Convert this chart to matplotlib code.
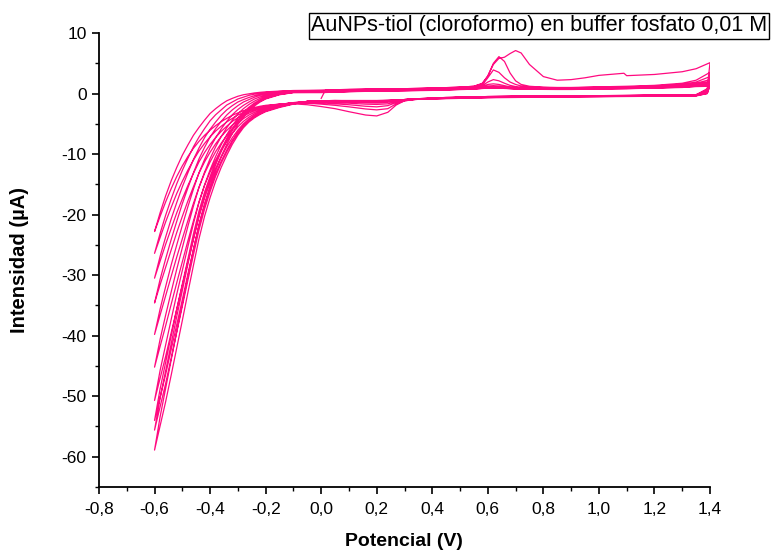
import matplotlib
matplotlib.use("Agg")
import matplotlib.pyplot as plt
from matplotlib.ticker import MultipleLocator, FuncFormatter

# ---- potentials (V) ----
# first anodic half-sweep, starting at 0 V
E_first = [0.0, 0.015, 0.1, 0.2, 0.3, 0.4, 0.5, 0.55, 0.58, 0.60, 0.62, 0.64, 0.66, 0.68,
           0.70, 0.72, 0.75, 0.80, 0.85, 0.90, 0.95, 1.0, 1.09, 1.10, 1.2, 1.3, 1.35, 1.4]
I_first = [-0.8, 0.55, 0.7, 0.75, 0.8, 0.9, 1.05, 1.2, 1.7, 2.9, 4.8, 5.8, 6.0, 6.6,
           7.1, 6.7, 4.8, 2.8, 2.2, 2.3, 2.6, 3.0, 3.35, 2.95, 3.15, 3.6, 4.1, 5.1]

# negative-potential region (ascending order)
E_tail = [-0.60, -0.58, -0.56, -0.54, -0.52, -0.50, -0.48, -0.46, -0.44, -0.42, -0.40, -0.38,
          -0.36, -0.34, -0.32, -0.30, -0.28, -0.26, -0.24, -0.22, -0.20, -0.15, -0.10]
# anodic region above -0.1 V
E_up = [0.0, 0.1, 0.2, 0.3, 0.4, 0.5, 0.55, 0.58, 0.60, 0.62, 0.64, 0.66, 0.68, 0.70,
        0.72, 0.75, 0.80, 0.85, 0.90, 0.95, 1.0, 1.09, 1.10, 1.2, 1.3, 1.35, 1.4]
# cathodic region from the upper vertex down to -0.05 V
E_down = [1.4, 1.39, 1.35, 1.2, 1.0, 0.8, 0.6, 0.45, 0.35, 0.30, 0.27, 0.24, 0.20, 0.16,
          0.10, 0.05, 0.0, -0.05]

# ---- currents (uA), one row per cycle ----
cathodic_down = [
    [5.1, 0.8, -0.2, -0.3, -0.35, -0.4, -0.5, -0.7, -0.95, -1.2, -1.9, -3.1, -3.7, -3.55, -3.0, -2.5, -2.15, -1.85],
    [3.5, 0.6, -0.2, -0.3, -0.35, -0.4, -0.5, -0.65, -0.9, -1.2, -1.7, -2.5, -2.7, -2.55, -2.2, -1.95, -1.75, -1.6],
    [2.8, 0.5, -0.2, -0.3, -0.35, -0.4, -0.5, -0.65, -0.85, -1.1, -1.5, -2.0, -2.2, -2.1, -1.85, -1.7, -1.55, -1.5],
    [2.3, 0.4, -0.25, -0.3, -0.35, -0.45, -0.55, -0.7, -0.85, -1.05, -1.35, -1.7, -1.8, -1.75, -1.6, -1.5, -1.4, -1.4],
    [2.0, 0.3, -0.25, -0.3, -0.4, -0.45, -0.55, -0.7, -0.85, -1.0, -1.2, -1.45, -1.55, -1.5, -1.4, -1.35, -1.3, -1.35],
    [1.8, 0.2, -0.3, -0.35, -0.4, -0.5, -0.6, -0.75, -0.9, -1.0, -1.15, -1.3, -1.4, -1.35, -1.3, -1.25, -1.25, -1.3],
    [1.6, 0.1, -0.3, -0.35, -0.45, -0.5, -0.6, -0.75, -0.9, -1.0, -1.1, -1.25, -1.3, -1.3, -1.25, -1.2, -1.2, -1.3],
    [1.5, 0.1, -0.35, -0.4, -0.45, -0.55, -0.65, -0.8, -0.9, -1.0, -1.1, -1.2, -1.25, -1.25, -1.2, -1.2, -1.2, -1.3],
    [1.4, 0.0, -0.35, -0.4, -0.5, -0.55, -0.65, -0.8, -0.95, -1.0, -1.05, -1.15, -1.2, -1.2, -1.2, -1.15, -1.2, -1.3],
    [1.3, 0.0, -0.4, -0.45, -0.5, -0.6, -0.7, -0.85, -0.95, -1.0, -1.05, -1.1, -1.15, -1.15, -1.15, -1.15, -1.2, -1.3],
]

# cathodic branch in the negative region (listed in E_tail order)
cathodic_tail = [
    [-22.8, -20.3, -17.9, -15.7, -13.7, -11.95, -10.4, -9.05, -7.9, -6.9, -6.05, -5.3, -4.65, -4.1, -3.6, -3.2, -2.85, -2.55, -2.3, -2.1, -1.95, -1.75, -1.7],
    [-26.4, -23.8, -21.2, -18.8, -16.5, -14.5, -12.65, -11.0, -9.5, -8.25, -7.15, -6.2, -5.4, -4.7, -4.1, -3.55, -3.15, -2.75, -2.45, -2.25, -2.05, -1.75, -1.55],
    [-30.5, -27.7, -24.9, -22.3, -19.7, -17.4, -15.2, -13.2, -11.3, -9.75, -8.4, -7.25, -6.25, -5.4, -4.6, -4.0, -3.45, -3.0, -2.65, -2.4, -2.15, -1.8, -1.5],
    [-34.6, -31.6, -28.7, -25.8, -22.95, -20.3, -17.75, -15.4, -13.15, -11.3, -9.7, -8.3, -7.1, -6.1, -5.2, -4.4, -3.75, -3.25, -2.85, -2.55, -2.3, -1.85, -1.5],
    [-39.8, -36.6, -33.45, -30.2, -27.0, -24.0, -21.0, -18.15, -15.5, -13.2, -11.3, -9.6, -8.2, -6.95, -5.85, -4.95, -4.15, -3.55, -3.1, -2.75, -2.45, -1.9, -1.5],
    [-45.2, -41.75, -38.35, -34.8, -31.25, -27.8, -24.35, -21.05, -17.9, -15.2, -12.95, -11.0, -9.35, -7.9, -6.6, -5.5, -4.6, -3.9, -3.35, -2.95, -2.6, -2.0, -1.55],
    [-50.7, -47.05, -43.4, -39.5, -35.6, -31.7, -27.8, -24.0, -20.35, -17.25, -14.65, -12.4, -10.5, -8.8, -7.3, -6.05, -5.0, -4.2, -3.6, -3.15, -2.75, -2.1, -1.6],
    [-54.0, -50.2, -46.4, -42.3, -38.15, -34.05, -29.85, -25.75, -21.8, -18.5, -15.7, -13.25, -11.15, -9.35, -7.75, -6.4, -5.25, -4.4, -3.75, -3.25, -2.85, -2.15, -1.65],
    [-55.6, -51.75, -47.9, -43.7, -39.4, -35.15, -30.85, -26.65, -22.55, -19.1, -16.2, -13.65, -11.5, -9.65, -7.95, -6.55, -5.4, -4.5, -3.85, -3.35, -2.9, -2.2, -1.7],
    [-58.9, -54.9, -50.9, -46.5, -42.0, -37.5, -32.9, -28.4, -24.0, -20.3, -17.2, -14.5, -12.2, -10.2, -8.4, -6.9, -5.65, -4.7, -4.0, -3.45, -3.0, -2.3, -1.75],
]

# anodic branch leaving the lower vertex (E_tail order)
anodic_tail = [
    [-22.8, -19.7, -16.9, -14.4, -12.2, -10.2, -8.5, -6.9, -5.6, -4.4, -3.3, -2.5, -1.8, -1.2, -0.8, -0.45, -0.2, -0.05, 0.1, 0.2, 0.28, 0.4, 0.5],
    [-26.4, -23.1, -20.1, -17.4, -14.9, -12.7, -10.7, -8.8, -7.2, -5.8, -4.5, -3.5, -2.7, -1.9, -1.4, -0.9, -0.6, -0.3, -0.1, 0.05, 0.16, 0.34, 0.46],
    [-30.5, -26.9, -23.7, -20.7, -18.0, -15.4, -13.1, -10.9, -9.0, -7.3, -5.9, -4.7, -3.6, -2.7, -2.0, -1.4, -1.0, -0.65, -0.35, -0.15, 0.03, 0.27, 0.43],
    [-34.6, -30.7, -27.3, -24.1, -21.1, -18.2, -15.6, -13.1, -10.8, -8.9, -7.2, -5.8, -4.6, -3.55, -2.7, -2.0, -1.4, -1.0, -0.6, -0.3, -0.1, 0.2, 0.39],
    [-39.8, -35.6, -31.9, -28.3, -25.0, -21.8, -18.7, -15.8, -13.1, -10.9, -8.95, -7.3, -5.85, -4.6, -3.5, -2.65, -1.95, -1.4, -0.9, -0.55, -0.28, 0.12, 0.34],
    [-45.2, -40.6, -36.6, -32.75, -29.0, -25.45, -21.95, -18.6, -15.5, -13.0, -10.75, -8.8, -7.1, -5.65, -4.4, -3.35, -2.5, -1.8, -1.25, -0.8, -0.45, 0.03, 0.28],
    [-50.7, -45.75, -41.5, -37.3, -33.15, -29.2, -25.3, -21.5, -18.0, -15.1, -12.6, -10.4, -8.45, -6.8, -5.3, -4.05, -3.05, -2.25, -1.55, -1.05, -0.63, -0.06, 0.23],
    [-54.0, -48.8, -44.4, -40.0, -35.6, -31.45, -27.25, -23.2, -19.4, -16.3, -13.7, -11.3, -9.2, -7.4, -5.8, -4.45, -3.4, -2.5, -1.75, -1.2, -0.74, -0.12, 0.2],
    [-55.6, -50.3, -45.8, -41.3, -36.8, -32.55, -28.2, -24.1, -20.15, -16.95, -14.2, -11.8, -9.6, -7.75, -6.1, -4.7, -3.55, -2.65, -1.85, -1.25, -0.8, -0.15, 0.18],
    [-58.9, -53.4, -48.7, -44.0, -39.3, -34.8, -30.2, -25.8, -21.6, -18.2, -15.3, -12.7, -10.4, -8.4, -6.6, -5.1, -3.9, -2.9, -2.05, -1.4, -0.9, -0.2, 0.15],
]

# anodic branch above -0.1 V (E_up order)
anodic_up = [
    [0.55, 0.65, 0.75, 0.8, 0.9, 1.05, 1.2, 1.6, 2.9, 5.0, 6.1, 5.3, 3.4, 2.1, 1.5, 1.2, 1.05, 1.0, 1.0, 1.05, 1.1, 1.2, 1.2, 1.35, 1.7, 2.2, 3.5],
    [0.5, 0.6, 0.7, 0.75, 0.85, 1.0, 1.1, 1.4, 2.6, 3.9, 3.5, 2.6, 1.9, 1.5, 1.25, 1.1, 1.0, 0.95, 0.95, 1.0, 1.05, 1.1, 1.1, 1.25, 1.55, 1.9, 2.8],
    [0.45, 0.55, 0.65, 0.7, 0.8, 0.95, 1.05, 1.3, 1.9, 2.3, 2.1, 1.7, 1.35, 1.15, 1.05, 1.0, 0.95, 0.9, 0.9, 0.95, 1.0, 1.05, 1.05, 1.2, 1.45, 1.7, 2.3],
    [0.4, 0.5, 0.6, 0.65, 0.75, 0.9, 1.0, 1.2, 1.5, 1.6, 1.5, 1.3, 1.1, 1.0, 0.95, 0.9, 0.9, 0.85, 0.85, 0.9, 0.95, 1.0, 1.0, 1.1, 1.35, 1.6, 2.0],
    [0.35, 0.45, 0.55, 0.6, 0.7, 0.85, 0.95, 1.1, 1.25, 1.3, 1.25, 1.1, 1.0, 0.92, 0.88, 0.85, 0.85, 0.8, 0.8, 0.85, 0.9, 0.95, 0.95, 1.05, 1.3, 1.5, 1.8],
    [0.3, 0.4, 0.5, 0.55, 0.65, 0.8, 0.9, 1.0, 1.1, 1.15, 1.1, 1.0, 0.92, 0.88, 0.84, 0.82, 0.8, 0.78, 0.78, 0.8, 0.85, 0.9, 0.9, 1.0, 1.2, 1.4, 1.6],
    [0.25, 0.4, 0.5, 0.55, 0.62, 0.75, 0.85, 0.95, 1.02, 1.05, 1.02, 0.95, 0.9, 0.85, 0.82, 0.8, 0.78, 0.75, 0.75, 0.78, 0.82, 0.88, 0.88, 0.98, 1.15, 1.3, 1.5],
    [0.2, 0.35, 0.45, 0.5, 0.58, 0.7, 0.8, 0.9, 0.97, 1.0, 0.97, 0.9, 0.85, 0.8, 0.78, 0.76, 0.74, 0.72, 0.72, 0.75, 0.8, 0.85, 0.85, 0.95, 1.1, 1.25, 1.4],
    [0.2, 0.33, 0.42, 0.48, 0.55, 0.68, 0.76, 0.86, 0.93, 0.96, 0.93, 0.87, 0.82, 0.78, 0.75, 0.73, 0.71, 0.7, 0.7, 0.73, 0.78, 0.82, 0.82, 0.92, 1.05, 1.2, 1.3],
    [0.15, 0.3, 0.4, 0.45, 0.52, 0.65, 0.72, 0.82, 0.9, 0.92, 0.9, 0.84, 0.8, 0.76, 0.73, 0.7, 0.68, 0.67, 0.67, 0.7, 0.75, 0.8, 0.8, 0.9, 1.0, 1.15, 1.2],
]

x_ticks = [-0.8, -0.6, -0.4, -0.2, 0.0, 0.2, 0.4, 0.6, 0.8, 1.0, 1.2, 1.4]
y_ticks = [10, 0, -10, -20, -30, -40, -50, -60]

title_text = "AuNPs-tiol (cloroformo) en buffer fosfato 0,01 M"
x_label = "Potencial (V)"
y_label = "Intensidad (\u00b5A)"

# ---- style ----
plt.rcParams['font.family'] = ['Liberation Sans', 'DejaVu Sans']
plt.rcParams['axes.unicode_minus'] = False
LINE_COLOR = '#ff0a80'

fig = plt.figure(figsize=(7.73, 5.53), dpi=100)
ax = fig.add_axes([99 / 773, 66 / 553, 611 / 773, 454 / 553])

# chain all sweeps into one continuous voltammogram trace
E_all = list(E_first)
I_all = list(I_first)
for k in range(len(cathodic_down)):
    E_all += E_down + E_tail[::-1] + E_tail + E_up
    I_all += (cathodic_down[k] + cathodic_tail[k][::-1]
              + anodic_tail[k] + anodic_up[k])

ax.plot(E_all, I_all, color=LINE_COLOR, lw=0.9, solid_joinstyle='round')

ax.set_xlim(-0.8, 1.4)
ax.set_ylim(-65, 10)

for side in ('top', 'right'):
    ax.spines[side].set_visible(False)
for side in ('left', 'bottom'):
    ax.spines[side].set_linewidth(1.3)

ax.set_xticks(x_ticks)
ax.set_yticks(y_ticks)
ax.xaxis.set_minor_locator(MultipleLocator(0.1))
ax.yaxis.set_minor_locator(MultipleLocator(5))
ax.xaxis.set_major_formatter(FuncFormatter(lambda v, p: f"{v:.1f}".replace('.', ',').replace('-0,0', '0,0')))
ax.yaxis.set_major_formatter(FuncFormatter(lambda v, p: f"{v:.0f}"))
ax.tick_params(which='major', direction='out', length=5, width=1.2, labelsize=12.5)
ax.tick_params(axis='x', which='major', pad=6)
ax.tick_params(axis='y', which='major', pad=4)
ax.tick_params(which='minor', direction='out', length=3, width=1.0)

fig.text(404 / 773, 1 - 541 / 553, x_label, ha='center', va='center',
         fontsize=14, fontweight='bold')
fig.text(20 / 773, 1 - 260 / 553, y_label, ha='center', va='center',
         rotation=90, fontsize=14.5, fontweight='bold')

fig.text(539 / 773, 1 - 26 / 553, title_text, ha='center', va='center', fontsize=15.5,
         bbox=dict(boxstyle='square,pad=0.1', fc='white', ec='black', lw=1.0))

fig.savefig('out.png', dpi=100)
